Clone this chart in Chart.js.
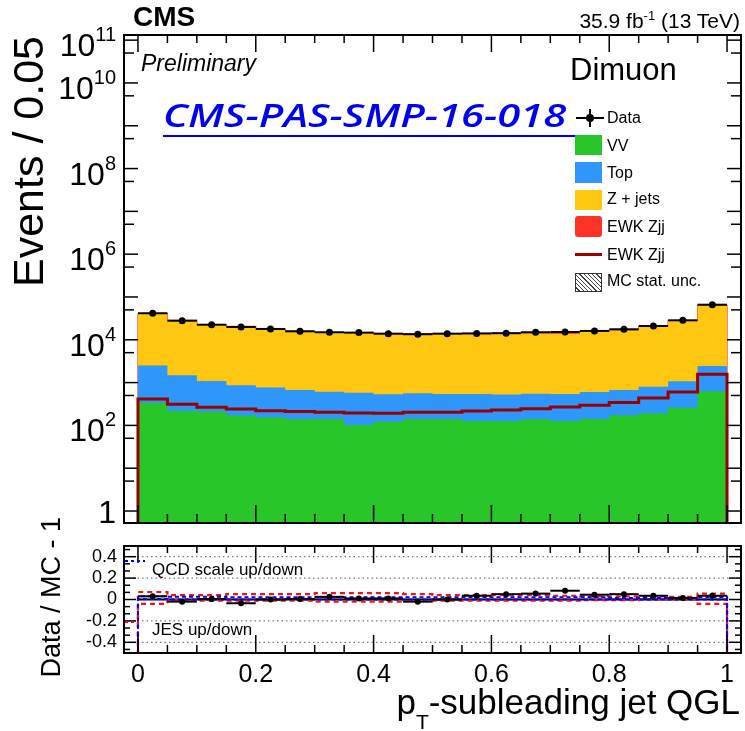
<!DOCTYPE html>
<html>
<head>
<meta charset="utf-8">
<script src="https://cdn.jsdelivr.net/npm/chart.js@4.4.1/dist/chart.umd.min.js"></script>
<style>
  body { margin: 0; background: #fff; }
  #wrap { position: relative; width: 745px; height: 731px; overflow: hidden; font-family: "Liberation Sans", Arial, sans-serif; color: #000; }
  canvas { position: absolute; left: 0; }
  #main { top: 0; }
  #ratio { top: 500px; }
  .t { position: absolute; white-space: nowrap; line-height: 1; }
  .sw { position: absolute; left: 575px; width: 27px; }
  .leg { left: 607px; font-size: 16px; }
  #link { left: 163px; top: 99px; font-family: "Open Sans", sans-serif; font-style: italic; font-weight: 600; font-size: 32px;
          color: #0000ee; line-height: 32px; padding-bottom: 4px; border-bottom: 2px solid #0000ee; transform-origin: 0 0; }
</style>
</head>
<body>
<div id="wrap">
  <canvas id="main" width="745" height="540"></canvas>
  <canvas id="ratio" width="745" height="231"></canvas>

  <div class="t" style="left:133px; top:3px; font-size:28px; font-weight:bold;">CMS</div>
  <div class="t" style="right:5px; top:9px; font-size:21px;">35.9 fb<sup style="font-size:13px; vertical-align:8px;">-1</sup> (13 TeV)</div>
  <div class="t" style="left:141px; top:52px; font-size:23px; font-style:italic;">Preliminary</div>
  <div class="t" style="left:570px; top:54px; font-size:31px;">Dimuon</div>
  <div class="t" id="link">CMS-PAS-SMP-16-018&nbsp;</div>

  <div class="sw" style="top:117px; left:576px; width:28px; height:2px; background:#000;"></div>
  <div class="sw" style="top:109px; left:589px; width:2px; height:18px; background:#000;"></div>
  <div class="sw" style="top:114px; left:586px; width:8px; height:8px; border-radius:50%; background:#000;"></div>
  <div class="t leg" style="top:110px;">Data</div>
  <div class="sw" style="top:135px; height:20px; background:#29c629;"></div>
  <div class="t leg" style="top:138px;">VV</div>
  <div class="sw" style="top:162px; height:21px; background:#2f96fc;"></div>
  <div class="t leg" style="top:165px;">Top</div>
  <div class="sw" style="top:190px; height:20px; background:#ffc612;"></div>
  <div class="t leg" style="top:191px;">Z + jets</div>
  <div class="sw" style="top:216px; height:21px; background:#ff3228; border-radius:3px;"></div>
  <div class="t leg" style="top:219px;">EWK Zjj</div>
  <div class="sw" style="top:253px; height:3px; background:#990000;"></div>
  <div class="t leg" style="top:247px;">EWK Zjj</div>
  <div class="sw" style="top:273px; height:17px; width:25px; border:1px solid #333;
       background: repeating-linear-gradient(45deg, #fff 0 2px, #444 2px 3px);"></div>
  <div class="t leg" style="top:273px;">MC stat. unc.</div>

  <div class="t" style="left:152px; top:561px; font-size:17px;">QCD scale up/down</div>
  <div class="t" style="left:152px; top:621px; font-size:17px;">JES up/down</div>
</div>

<script>
const binLow = [0, 0.05, 0.1, 0.15, 0.2, 0.25, 0.3, 0.35, 0.4, 0.45, 0.5, 0.55, 0.6, 0.65, 0.7, 0.75, 0.8, 0.85, 0.9, 0.95];
const binWidth = 0.05;

const vv = [340, 220, 210, 170, 152, 140, 141, 102, 122, 141, 141, 126, 126, 140, 126, 141, 173, 192, 260, 630];
const topBkg = [2180, 1260, 880, 700, 613, 535, 474, 478, 413, 419, 399, 414, 399, 410, 414, 459, 502, 608, 810, 1820];
const zjets = [37600, 26700, 21000, 19500, 16900, 14800, 13800, 13800, 13000, 13000, 13200, 12900, 12900, 13400, 13200, 14500, 15700, 19100, 26400, 59800];
const ewk = [415, 312, 265, 240, 220, 210, 203, 195, 192, 203, 203, 217, 230, 245, 270, 295, 345, 435, 600, 1560];
const dataCounts = [41700, 27900, 22500, 19900, 17900, 15800, 15000, 14700, 13900, 13500, 13900, 14100, 14300, 15000, 15200, 16100, 17600, 21000, 28500, 66000];

const ratio = [0.03, -0.02, 0.005, -0.035, 0.0, 0.005, 0.025, 0.01, 0.01, -0.02, 0.0, 0.035, 0.05, 0.055, 0.082, 0.045, 0.05, 0.035, 0.015, 0.035];
const ratioErr = [0.006, 0.007, 0.008, 0.008, 0.008, 0.009, 0.009, 0.009, 0.009, 0.009, 0.009, 0.009, 0.009, 0.009, 0.009, 0.009, 0.008, 0.008, 0.007, 0.005];
const jesUp = [0.07, 0.04, 0.04, 0.05, 0.05, 0.05, 0.06, 0.06, 0.06, 0.05, 0.04, 0.04, 0.04, 0.04, 0.035, 0.03, 0.03, 0.03, 0.025, 0.055];
const jesDown = [-0.04, -0.005, -0.01, -0.01, -0.01, -0.01, -0.02, -0.02, -0.02, -0.015, -0.01, -0.01, -0.01, -0.01, -0.01, -0.005, -0.005, 0.0, 0.0, -0.04];
const qcdUp = [0.03, 0.025, 0.025, 0.02, 0.02, 0.02, 0.02, 0.02, 0.02, 0.02, 0.02, 0.02, 0.02, 0.02, 0.02, 0.02, 0.015, 0.015, 0.015, 0.02];
const qcdDown = [0.005, 0.0, 0.0, 0.0, 0.0, 0.0, 0.0, 0.0, 0.0, 0.0, 0.0, 0.0, 0.0, 0.0, 0.0, 0.0, 0.0, 0.0, 0.0, 0.0];

const yLogLabels = [11, 10, 8, 6, 4, 2, 0];
const xTicks = [0, 0.2, 0.4, 0.6, 0.8, 1];
const ratioTicks = [0.4, 0.2, 0, -0.2, -0.4];

const FONT = '"Liberation Sans", Arial, sans-serif';
const xMin = -0.0237, xMax = 1.0237;

// stretch the link text to the width it has in the plot
const link = document.getElementById('link');
link.style.transform = 'scaleX(' + (414 / link.getBoundingClientRect().width) + ')';

// histogram outline as step points, optionally closed down to a floor value
function histPoints(vals, floor) {
  const pts = binLow.map((x, i) => ({ x: x, y: vals[i] }));
  pts.push({ x: binLow[binLow.length - 1] + binWidth, y: vals[vals.length - 1] });
  if (floor !== undefined) {
    pts.unshift({ x: binLow[0], y: floor });
    pts.push({ x: binLow[binLow.length - 1] + binWidth, y: floor });
  }
  return pts;
}

function line(ctx, x1, y1, x2, y2) {
  ctx.beginPath();
  ctx.moveTo(x1, y1);
  ctx.lineTo(x2, y2);
  ctx.stroke();
}

function xTickMarks(ctx, a, x, topLen, botLen) {
  for (let i = 0; i <= 20; i++) {
    const px = x.getPixelForValue(i * binWidth);
    const major = i % 4 === 0;
    line(ctx, px, a.bottom, px, a.bottom - (major ? botLen[0] : botLen[1]));
    line(ctx, px, a.top, px, a.top + (major ? topLen[0] : topLen[1]));
  }
}

const cumVV = vv.slice();
const cumTop = vv.map((v, i) => v + topBkg[i]);
const cumZ = cumTop.map((v, i) => v + zjets[i]);
const cumAll = cumZ.map((v, i) => v + ewk[i]);

const centers = binLow.map((x) => x + binWidth / 2);

const mainAxes = {
  id: 'mainAxes',
  afterDatasetsDraw(chart) {
    const { ctx, scales: { x, y } } = chart;
    ctx.save();
    ctx.strokeStyle = '#000';
    ctx.lineWidth = 2;
    dataCounts.forEach((v, i) => {
      const py = y.getPixelForValue(v);
      line(ctx, x.getPixelForValue(binLow[i]), py, x.getPixelForValue(binLow[i] + binWidth), py);
    });
    ctx.restore();
  },
  afterDraw(chart) {
    const { ctx, chartArea: a, scales: { x, y } } = chart;
    ctx.save();
    ctx.strokeStyle = '#000';
    ctx.lineWidth = 1.5;
    xTickMarks(ctx, a, x, [17, 8], [18, 9]);
    for (let n = -1; n <= 11; n++) {
      [[1, 14], [5, 10]].forEach(([m, len]) => {
        const v = m * Math.pow(10, n);
        if (v < y.min || v > y.max) return;
        const py = y.getPixelForValue(v);
        line(ctx, a.left, py, a.left + len, py);
        line(ctx, a.right, py, a.right - len, py);
      });
    }
    ctx.lineWidth = 2;
    ctx.strokeRect(a.left, a.top, a.right - a.left, a.bottom - a.top);

    ctx.fillStyle = '#000';
    ctx.textAlign = 'right';
    ctx.textBaseline = 'alphabetic';
    yLogLabels.forEach((n) => {
      const py = y.getPixelForValue(Math.pow(10, n));
      if (n === 0) {
        ctx.font = '32px ' + FONT;
        ctx.fillText('1', 116, py + 12);
        return;
      }
      ctx.font = '20px ' + FONT;
      const we = ctx.measureText(String(n)).width;
      ctx.fillText(String(n), 116, py + 1);
      ctx.font = '32px ' + FONT;
      ctx.fillText('10', 116 - we, py + 16);
    });

    ctx.translate(43, 36);
    ctx.rotate(-Math.PI / 2);
    ctx.font = '43px ' + FONT;
    ctx.fillText('Events / 0.05', 0, 0);
    ctx.restore();
  }
};

const ratioAxes = {
  id: 'ratioAxes',
  beforeDatasetsDraw(chart) {
    const { ctx, chartArea: a, scales: { y } } = chart;
    ctx.save();
    ctx.strokeStyle = '#555';
    ctx.lineWidth = 1;
    ctx.setLineDash([1.5, 3]);
    [0.4, 0.2, -0.2, -0.4].forEach((v) => {
      const py = y.getPixelForValue(v);
      line(ctx, a.left, py, a.right, py);
    });
    ctx.restore();
  },
  afterDatasetsDraw(chart) {
    const { ctx, scales: { x, y } } = chart;
    ctx.save();
    ctx.strokeStyle = '#000';
    ctx.lineWidth = 2;
    ratio.forEach((v, i) => {
      const py = y.getPixelForValue(v);
      line(ctx, x.getPixelForValue(binLow[i]), py, x.getPixelForValue(binLow[i] + binWidth), py);
      const px = x.getPixelForValue(centers[i]);
      line(ctx, px, y.getPixelForValue(v - ratioErr[i]), px, y.getPixelForValue(v + ratioErr[i]));
    });
    ctx.restore();
  },
  afterDraw(chart) {
    const { ctx, chartArea: a, scales: { x, y } } = chart;
    ctx.save();
    ctx.strokeStyle = '#000';
    ctx.lineWidth = 1.5;
    xTickMarks(ctx, a, x, [17, 7], [18, 8]);
    for (let k = -7; k <= 7; k++) {
      const py = y.getPixelForValue(k * 0.2 / 3);
      const len = k % 3 === 0 ? 12 : 6;
      line(ctx, a.left, py, a.left + len, py);
      line(ctx, a.right, py, a.right - len, py);
    }
    ctx.lineWidth = 2;
    ctx.strokeRect(a.left, a.top, a.right - a.left, a.bottom - a.top);

    // legend samples
    ctx.lineWidth = 2;
    ctx.setLineDash([3, 3]);
    ctx.strokeStyle = '#0000ff';
    line(ctx, a.left + 1, a.top + 15, a.left + 21, a.top + 15);
    ctx.strokeStyle = '#ff0000';
    line(ctx, a.left + 1, a.top + 76, a.left + 15, a.top + 76);
    ctx.setLineDash([]);

    ctx.fillStyle = '#000';
    ctx.font = '18px ' + FONT;
    ctx.textAlign = 'right';
    ctx.textBaseline = 'middle';
    ratioTicks.forEach((v) => {
      ctx.fillText(String(v), 117, y.getPixelForValue(v));
    });

    ctx.font = '25px ' + FONT;
    ctx.textAlign = 'center';
    ctx.textBaseline = 'alphabetic';
    xTicks.forEach((v) => {
      ctx.fillText(String(v), x.getPixelForValue(v), a.bottom + 29);
    });

    // x title with subscript
    ctx.textAlign = 'left';
    ctx.font = '35px ' + FONT;
    const rest = '-subleading jet QGL';
    const wRest = ctx.measureText(rest).width;
    const wp = ctx.measureText('p').width;
    ctx.font = '21px ' + FONT;
    const wT = ctx.measureText('T').width;
    const x0 = 740 - wRest - wT - wp;
    ctx.font = '35px ' + FONT;
    ctx.fillText('p', x0, a.bottom + 61);
    ctx.fillText(rest, x0 + wp + wT, a.bottom + 61);
    ctx.font = '21px ' + FONT;
    ctx.fillText('T', x0 + wp, a.bottom + 76);

    ctx.translate(60, a.top - 29);
    ctx.rotate(-Math.PI / 2);
    ctx.font = '27px ' + FONT;
    ctx.textAlign = 'right';
    ctx.fillText('Data / MC - 1', 0, 0);
    ctx.restore();
  }
};

const common = {
  responsive: false,
  animation: false,
  events: [],
  plugins: { legend: { display: false }, tooltip: { enabled: false } },
  elements: { point: { radius: 0 } }
};

new Chart(document.getElementById('main'), {
  type: 'line',
  data: {
    datasets: [
      { label: 'Data', data: centers.map((x, i) => ({ x: x, y: dataCounts[i] })), showLine: false,
        pointRadius: 3.5, pointBackgroundColor: '#000', pointBorderColor: '#000', pointBorderWidth: 0 },
      { label: 'EWK Zjj line', data: histPoints(ewk, 0.1), stepped: 'before', borderColor: '#990000', borderWidth: 3, fill: false },
      { label: 'VV', data: histPoints(cumVV), stepped: 'before', borderWidth: 0, backgroundColor: '#29c629', fill: 'start' },
      { label: 'Top', data: histPoints(cumTop), stepped: 'before', borderWidth: 0, backgroundColor: '#2f96fc', fill: 'start' },
      { label: 'Z + jets', data: histPoints(cumZ), stepped: 'before', borderWidth: 0, backgroundColor: '#ffc612', fill: 'start' },
      { label: 'EWK Zjj', data: histPoints(cumAll, 0.1), stepped: 'before', borderColor: '#ff4040', borderWidth: 1.2,
        backgroundColor: '#ff3228', fill: 'start' }
    ]
  },
  options: Object.assign({}, common, {
    layout: { padding: { left: 124, right: 3, top: 35, bottom: 17 } },
    scales: {
      x: { type: 'linear', display: false, min: xMin, max: xMax },
      y: { type: 'logarithmic', display: false, min: Math.pow(10, -0.28), max: Math.pow(10, 11.12) }
    }
  }),
  plugins: [mainAxes]
});

new Chart(document.getElementById('ratio'), {
  type: 'line',
  data: {
    datasets: [
      { label: 'Data / MC', data: centers.map((x, i) => ({ x: x, y: ratio[i] })), showLine: false,
        pointRadius: 3, pointBackgroundColor: '#000', pointBorderColor: '#000', pointBorderWidth: 0 },
      { label: 'QCD up', data: histPoints(qcdUp, -0.6), stepped: 'before', borderColor: '#0000ff', borderWidth: 2, borderDash: [4, 3], fill: false },
      { label: 'QCD down', data: histPoints(qcdDown, -0.6), stepped: 'before', borderColor: '#0000ff', borderWidth: 2, borderDash: [4, 3], fill: false },
      { label: 'JES up', data: histPoints(jesUp, -0.6), stepped: 'before', borderColor: '#ff1010', borderWidth: 2.2, borderDash: [5, 4], fill: false },
      { label: 'JES down', data: histPoints(jesDown, -0.6), stepped: 'before', borderColor: '#ff1010', borderWidth: 2.2, borderDash: [5, 4], fill: false },
      { label: 'zero', data: [{ x: 0, y: 0 }, { x: 1, y: 0 }], borderColor: '#000', borderWidth: 2, fill: false }
    ]
  },
  options: Object.assign({}, common, {
    layout: { padding: { left: 124, right: 3, top: 46, bottom: 78 } },
    scales: {
      x: { type: 'linear', display: false, min: xMin, max: xMax },
      y: { type: 'linear', display: false, min: -0.5, max: 0.5 }
    }
  }),
  plugins: [ratioAxes]
});
</script>
</body>
</html>
